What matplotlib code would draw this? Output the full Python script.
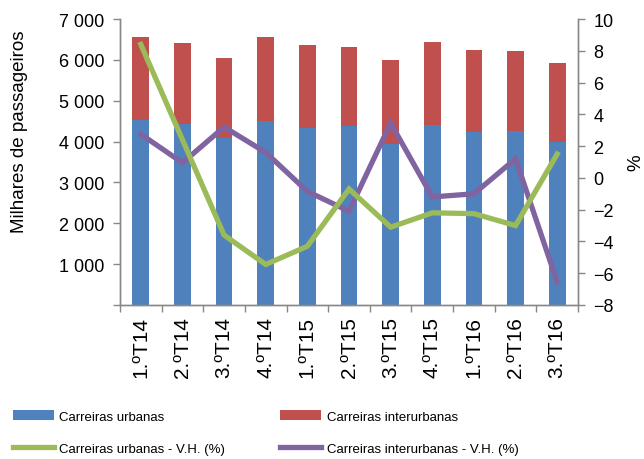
import numpy as np
import matplotlib
matplotlib.use("Agg")
import matplotlib.pyplot as plt
from matplotlib.ticker import FuncFormatter, FixedLocator

plt.rcParams['font.family'] = ['Liberation Sans', 'DejaVu Sans']

# data
quarters = ['1.ºT14', '2.ºT14', '3.ºT14', '4.ºT14', '1.ºT15', '2.ºT15',
            '3.ºT15', '4.ºT15', '1.ºT16', '2.ºT16', '3.ºT16']
urbanas = [4520, 4420, 4080, 4500, 4325, 4390, 3940, 4405, 4225, 4250, 4000]
interurbanas = [2050, 1985, 1975, 2070, 2030, 1935, 2065, 2040, 2005, 1965, 1925]
vh_urbanas = [8.4, 2.4, -3.6, -5.45, -4.3, -0.7, -3.1, -2.2, -2.25, -3.0, 1.5]
vh_interurbanas = [2.75, 0.95, 3.2, 1.6, -0.85, -2.1, 3.45, -1.2, -1.0, 1.2, -6.55]

c_blue = '#4F81BD'
c_red = '#C0504D'
c_green = '#9BBB59'
c_purple = '#8064A2'
c_axis = '#888888'

fig = plt.figure(figsize=(6.44, 4.6), dpi=100)
ax = fig.add_axes([120 / 644, 1 - 306 / 460, 458 / 644, 286 / 460])
ax2 = ax.twinx()

x = np.arange(len(quarters))
b1 = ax.bar(x, urbanas, width=0.4, color=c_blue, label='Carreiras urbanas', zorder=2)
b2 = ax.bar(x, interurbanas, width=0.4, bottom=urbanas, color=c_red,
            label='Carreiras interurbanas', zorder=2)

l2, = ax2.plot(x, vh_interurbanas, color=c_purple, lw=3.8,
               label='Carreiras interurbanas - V.H. (%)', solid_joinstyle='miter')
l1, = ax2.plot(x, vh_urbanas, color=c_green, lw=3.8,
               label='Carreiras urbanas - V.H. (%)', solid_joinstyle='miter')

ax.set_xlim(-0.5, len(quarters) - 0.5)
ax.set_ylim(0, 7000)
ax2.set_ylim(-8, 10)

ax.set_yticks(np.arange(0, 7001, 1000))
ax.yaxis.set_major_formatter(FuncFormatter(
    lambda v, p: '' if v == 0 else f'{int(v):,}'.replace(',', ' ')))
ax2.set_yticks(np.arange(-8, 11, 2))

ax.set_xticks(x)
ax.set_xticklabels(quarters, rotation=90, fontsize=15)
ax.xaxis.set_minor_locator(FixedLocator(np.arange(-0.5, len(quarters), 1)))
ax.tick_params(axis='x', which='major', length=0, pad=8)
ax.tick_params(axis='x', which='minor', length=5, color=c_axis, width=1)
ax.tick_params(axis='y', labelsize=13, length=5, color=c_axis, width=1, pad=6)
ax2.tick_params(axis='y', labelsize=13, length=5, color=c_axis, width=1, pad=6)

for a in (ax, ax2):
    a.spines['top'].set_visible(False)
    for s in ('left', 'right', 'bottom'):
        a.spines[s].set_color(c_axis)
        a.spines[s].set_linewidth(1)

ax.set_ylabel('Milhares de passageiros', fontsize=13.5)
ax.yaxis.set_label_coords(-0.201, 0.608)
ax2.set_ylabel('%', fontsize=13.5, labelpad=10)

handles = [b1, l1, b2, l2]
labels = [h.get_label() for h in handles]
fig.legend(handles, labels, loc='upper left', bbox_to_anchor=(0.012, 0.117),
           ncol=2, frameon=False, fontsize=9.5, handlelength=3.1, handletextpad=0.4,
           columnspacing=4.2, labelspacing=1.5, borderaxespad=0)

fig.savefig('out.png', dpi=100)
